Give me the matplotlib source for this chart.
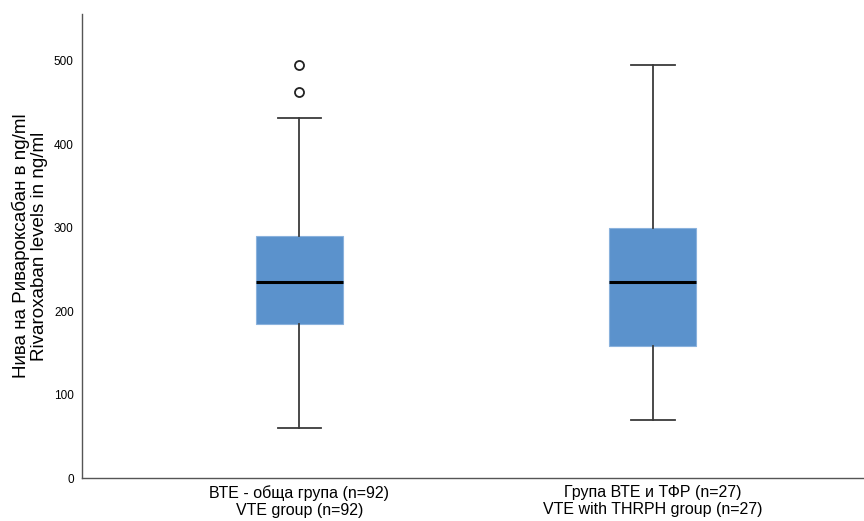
import matplotlib.pyplot as plt

plt.rcParams['font.family'] = ['Liberation Sans', 'DejaVu Sans']

groups = ['ВТЕ - обща група (n=92)\nVTE group (n=92)',
          'Група ВТЕ и ТФР (n=27)\nVTE with THRPH group (n=27)']
whislo = [60, 70]
q1 = [185, 158]
med = [235, 235]
q3 = [290, 300]
whishi = [431, 495]
fliers = [[463, 495], []]

stats = []
for i in range(len(groups)):
    stats.append({'whislo': whislo[i], 'q1': q1[i], 'med': med[i],
                  'q3': q3[i], 'whishi': whishi[i], 'fliers': fliers[i]})

fig = plt.figure(figsize=(8.64, 5.21), dpi=100)
ax = fig.add_axes([0.095, 0.0825, 0.905, 0.8905])

ax.bxp(stats, positions=[1, 2], widths=0.246, capwidths=0.123,
       patch_artist=True, showfliers=True,
       boxprops=dict(facecolor='#5b92cc', edgecolor='#8ab2dd', linewidth=0.8),
       medianprops=dict(color='black', linewidth=2.2),
       whiskerprops=dict(color='#3a3a3a', linewidth=1.3),
       capprops=dict(color='#3a3a3a', linewidth=1.3),
       flierprops=dict(marker='o', markersize=6.5, markerfacecolor='white',
                       markeredgecolor='#222222', markeredgewidth=1.3))

ax.set_xlim(0.385, 2.597)
ax.set_ylim(0, 556)
ax.set_yticks([0, 100, 200, 300, 400, 500])
ax.set_xticks([1, 2])
ax.set_xticklabels(groups, fontsize=11.5, linespacing=1.2)
ax.tick_params(axis='both', length=0, labelsize=8.5)
ax.tick_params(axis='x', labelsize=11.5, pad=5)
ax.tick_params(axis='y', pad=6)
for s in ['top', 'right']:
    ax.spines[s].set_visible(False)
for s in ['left', 'bottom']:
    ax.spines[s].set_color('#555555')
    ax.spines[s].set_linewidth(1.0)

ax.set_ylabel('Нива на Ривароксабан в ng/ml\nRivaroxaban levels in ng/ml',
              fontsize=13.5, linespacing=1.1, labelpad=4)

fig.savefig('out.png', dpi=100)
